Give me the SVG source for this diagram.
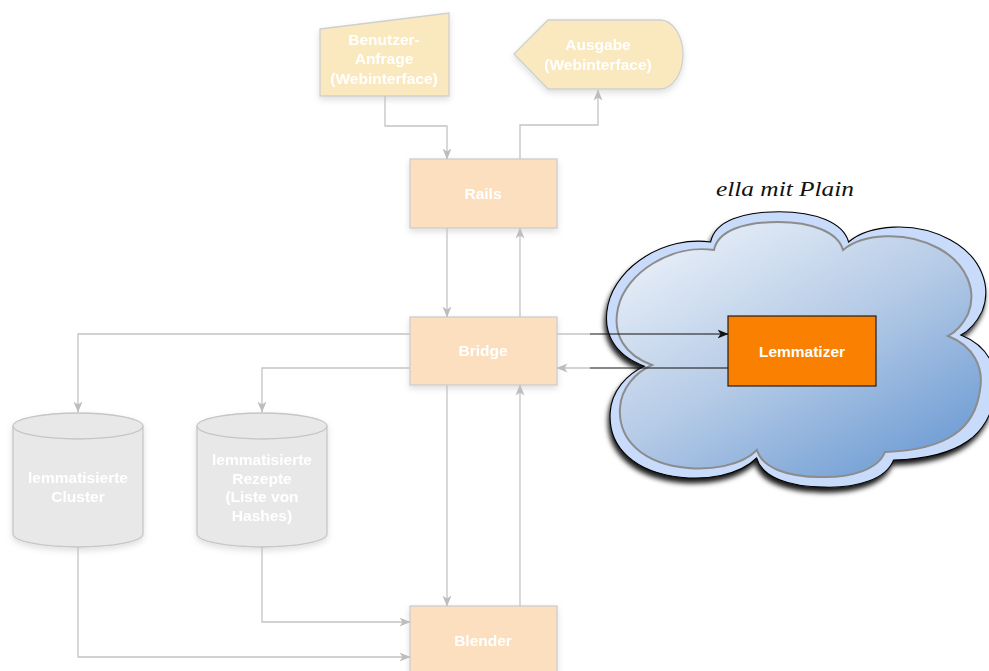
<svg xmlns="http://www.w3.org/2000/svg" width="989" height="671" viewBox="0 0 989 671">
  <defs>
    <style>
      .lbl { font-family: "Liberation Sans", Arial, sans-serif; font-weight: bold; font-size: 15.5px; fill: #ffffff; text-anchor: middle; }
      .io { fill: #fae9bf; stroke: #cfcfcf; stroke-width: 1.3; }
      .proc { fill: #fcdfbf; stroke: #cdcdcd; stroke-width: 1.3; }
      .db { fill: #e8e8e8; stroke: #c6c6c6; stroke-width: 1.3; }
      .wire { fill: none; stroke: #c4c4c4; stroke-width: 1.3; }
      .wire-dark { fill: none; stroke: #111111; stroke-width: 1.2; }
    </style>
    <marker id="arr" viewBox="0 0 11 10" refX="10.5" refY="5" markerWidth="11" markerHeight="10" markerUnits="userSpaceOnUse" orient="auto">
      <path d="M0,0.5 L11,5 L0,9.5 L3,5 Z" fill="#bdbdbd"/>
    </marker>
    <marker id="arr-dark" viewBox="0 0 11 10" refX="10.5" refY="5" markerWidth="11" markerHeight="10" markerUnits="userSpaceOnUse" orient="auto">
      <path d="M0,0.5 L11,5 L0,9.5 L3,5 Z" fill="#111111"/>
    </marker>
    <filter id="soft" x="-20%" y="-20%" width="140%" height="150%">
      <feDropShadow dx="0" dy="3" stdDeviation="3" flood-color="#000" flood-opacity="0.13"/>
    </filter>
    <filter id="cloudShadow" x="-10%" y="-10%" width="120%" height="130%">
      <feDropShadow dx="-1.5" dy="4.5" stdDeviation="2.5" flood-color="#000" flood-opacity="0.9"/>
    </filter>
    <linearGradient id="sky" x1="0.1" y1="0" x2="0.9" y2="1">
      <stop offset="0" stop-color="#eef3fa"/>
      <stop offset="0.5" stop-color="#b4cae6"/>
      <stop offset="1" stop-color="#6898d2"/>
    </linearGradient>
    <path id="cloudShape" d="M652,365 C625,355 612,335 618,308 C626,272 672,244 714,250 C718,230 745,222 778,222 C812,222 838,232 843,250 C862,234 905,230 938,248 C968,264 977,292 968,314 C962,326 956,332 948,336 C974,346 984,368 980,390 C975,428 948,450 885,452 C878,470 850,478 820,477 C788,477 762,468 757,450 C740,467 708,470 688,468 C643,464 618,440 620,408 C621,388 636,372 652,365 Z"/>
  </defs>

  <rect width="989" height="671" fill="#ffffff"/>

  <!-- web input / output -->
  <g id="benutzer-anfrage" filter="url(#soft)">
    <path class="io" d="M320,29 L449,13 V96 H320 Z"/>
    <text class="lbl" x="384" y="45">Benutzer-</text>
    <text class="lbl" x="384" y="64">Anfrage</text>
    <text class="lbl" x="384" y="84">(Webinterface)</text>
  </g>
  <g id="ausgabe" filter="url(#soft)">
    <path class="io" d="M514,54 L548,20 H660 A23,34.5 0 0 1 660,89 H548 Z"/>
    <text class="lbl" x="598" y="50">Ausgabe</text>
    <text class="lbl" x="598" y="70">(Webinterface)</text>
  </g>

  <!-- processing steps -->
  <g id="rails" filter="url(#soft)">
    <rect class="proc" x="410" y="159" width="147" height="69"/>
    <text class="lbl" x="483" y="199">Rails</text>
  </g>
  <g id="bridge" filter="url(#soft)">
    <rect class="proc" x="410" y="317" width="147" height="68"/>
    <text class="lbl" x="483" y="356">Bridge</text>
  </g>
  <g id="blender" filter="url(#soft)">
    <rect class="proc" x="410" y="606" width="147" height="70"/>
    <text class="lbl" x="483" y="646">Blender</text>
  </g>

  <!-- data stores -->
  <g id="lemmatisierte-cluster" filter="url(#soft)">
    <path class="db" d="M13,426 V534 A65,13 0 0 0 143,534 V426 A65,13 0 0 0 13,426 Z"/>
    <path class="db" fill="none" d="M13,426 A65,13 0 0 0 143,426"/>
    <text class="lbl" x="78" y="483">lemmatisierte</text>
    <text class="lbl" x="78" y="502">Cluster</text>
  </g>
  <g id="lemmatisierte-rezepte" filter="url(#soft)">
    <path class="db" d="M197,426 V534 A65,13 0 0 0 327,534 V426 A65,13 0 0 0 197,426 Z"/>
    <path class="db" fill="none" d="M197,426 A65,13 0 0 0 327,426"/>
    <text class="lbl" x="262" y="465">lemmatisierte</text>
    <text class="lbl" x="262" y="484">Rezepte</text>
    <text class="lbl" x="262" y="502">(Liste von</text>
    <text class="lbl" x="262" y="521">Hashes)</text>
  </g>

  <!-- external service in the cloud -->
  <g id="cloud">
    <use href="#cloudShape" transform="matrix(1.069 0 0 1.08 -52.6 -28)" fill="#c9dbfa" stroke="#000" stroke-width="1" filter="url(#cloudShadow)"/>
    <use href="#cloudShape" fill="url(#sky)" stroke="#8c8c8c" stroke-width="2"/>
  </g>
  <g id="cloud-label">
    <text x="785" y="196" font-family="'Liberation Serif', 'DejaVu Serif', serif" font-style="italic" font-size="21" fill="#111" text-anchor="middle" textLength="138" lengthAdjust="spacingAndGlyphs">ella mit Plain</text>
  </g>
  <g id="lemmatizer">
    <rect x="728" y="316" width="148" height="70" fill="#f98000" stroke="#1e1e1e" stroke-width="1.2"/>
    <text class="lbl" x="802" y="357" font-size="16.5px">Lemmatizer</text>
  </g>

  <!-- connectors -->
  <g id="connectors">
    <path class="wire" d="M385,96 V126 H447 V159" marker-end="url(#arr)"/>
    <path class="wire" d="M520,159 V125 H598 V90" marker-end="url(#arr)"/>
    <path class="wire" d="M447,228 V317" marker-end="url(#arr)"/>
    <path class="wire" d="M520,317 V228" marker-end="url(#arr)"/>
    <path class="wire" d="M410,334 H78 V412" marker-end="url(#arr)"/>
    <path class="wire" d="M410,368 H262 V412" marker-end="url(#arr)"/>
    <path class="wire" d="M447,385 V606" marker-end="url(#arr)"/>
    <path class="wire" d="M520,606 V385" marker-end="url(#arr)"/>
    <path class="wire" d="M78,547 V657 H410" marker-end="url(#arr)"/>
    <path class="wire" d="M262,547 V622 H410" marker-end="url(#arr)"/>
    <path class="wire" d="M557,334 H590"/>
    <path class="wire-dark" d="M590,334 H728" marker-end="url(#arr-dark)"/>
    <path class="wire-dark" d="M728,368 H590"/>
    <path class="wire" d="M590,368 H557" marker-end="url(#arr)"/>
  </g>
</svg>
